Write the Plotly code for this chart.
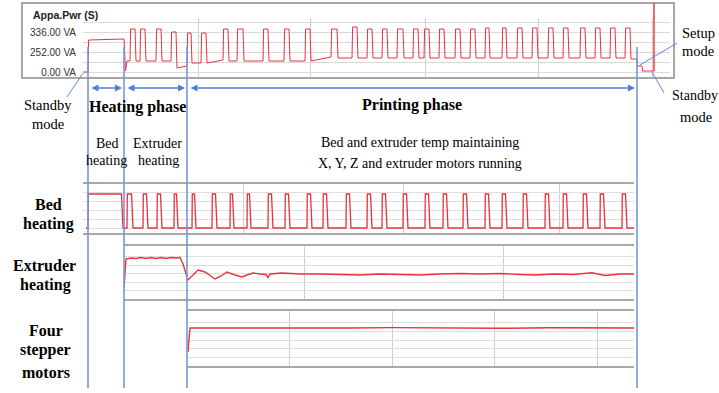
import plotly.graph_objects as go

W, H = 719, 393
SERIF = "Liberation Serif"
SANS = "Liberation Sans"
RED = "#e8323c"
BLUE = "#7597da"
BLUE_D = "#4f7fd3"

# ---------------- data (common time axis, s) ----------------
phase_bounds = [5, 41, 104, 554]   # bed heat start, extruder heat start, printing start, setup
cursor_t = 571

# Apparent power panel (values in chart grid divisions)
pwr_tick_vals = [0, 2, 4]
pwr_tick_text = ["0.00 VA", "252.00 VA", "336.00 VA"]
pwr_pre_t = [0, 5, 5.6, 41, 42.5, 44]
pwr_pre_v = [0.0, 0.0, 3.2, 3.3, 0.1, 1.1]
pwr_on = [47, 57, 73, 88, 104, 118, 140, 154, 180, 201, 222, 248, 269, 284, 299, 314,
          330, 341, 356, 372, 387, 402, 419, 434, 449, 465, 480, 497, 512, 527, 542]
pwr_off = [52, 62, 78, 93, 108, 123, 145, 160, 185, 206, 227, 254, 274, 289, 304, 320,
           335, 346, 361, 377, 392, 406, 423, 439, 454, 470, 485, 502, 517, 532, 547]
pwr_top = [4.3, 4.3, 4.3, 4.0, 3.9, 3.9, 4.3, 4.3, 4.3, 4.3, 4.3, 4.3, 4.5, 4.3, 4.3, 4.3,
           4.3, 4.3, 4.3, 4.3, 4.3, 4.4, 4.4, 4.4, 4.4, 4.4, 4.4, 4.4, 4.4, 4.4, 4.4]
pwr_base_a = [1.1, 1.1, 1.1, 0.4, 0.9, 0.9, 1.1, 1.1, 1.1, 1.1, 1.1, 1.4, 1.4, 1.4, 1.4, 1.4,
              1.4, 1.4, 1.4, 1.4, 1.4, 1.4, 1.4, 1.4, 1.4, 1.4, 1.4, 1.4, 1.4, 1.4, 1.3]
pwr_base_b = [1.1, 1.1, 1.1, 0.6, 0.9, 1.2, 1.1, 1.1, 1.1, 1.1, 1.5, 1.4, 1.4, 1.4, 1.4, 1.4,
              1.4, 1.4, 1.4, 1.4, 1.4, 1.4, 1.4, 1.4, 1.4, 1.4, 1.4, 1.4, 1.4, 1.4, 1.3]
pwr_post_t = [554, 554.6, 559, 559.6, 571]
pwr_post_v = [1.3, 0.6, 0.6, 0.1, 0.1]

# Bed heater state
bed_low, bed_high = 5, 39
bed_start, bed_end = 3, 551
bed_on = [5, 44, 60, 74, 91, 109, 129, 147, 164, 185, 202, 224, 240, 263, 284, 299, 320,
          342, 360, 380, 402, 419, 440, 462, 480, 500, 517, 539]
bed_off = [40, 50, 65, 79, 95, 113, 134, 151, 168, 190, 207, 229, 245, 268, 289, 304, 325,
           347, 365, 385, 407, 424, 445, 467, 485, 505, 522, 544]

# Extruder heater
ext_t = [41, 43, 48, 53, 58, 63, 68, 73, 78, 83, 88, 93, 97, 100, 105, 110, 115, 122, 132,
         138, 144, 152, 159, 164, 170, 177, 183, 185, 187, 199, 217, 237, 257, 277, 297, 317,
         337, 357, 377, 397, 417, 437, 452, 472, 490, 509, 522, 537, 551]
ext_v = [11, 40, 41, 40.5, 41.5, 40.5, 41.5, 40.5, 41.5, 40.5, 41.5, 41, 41.5, 35, 19, 24, 29,
         27, 20, 23, 27, 24, 22, 24, 26, 25, 24.5, 21.5, 25, 26, 25, 25, 24.5, 24, 25, 24.5,
         24, 25, 25.5, 25, 25.5, 24.5, 24, 25, 24.5, 26.2, 23.5, 25, 25]

# Four stepper motors
stp_t = [105, 107, 167, 217, 267, 309, 367, 417, 467, 497, 551]
stp_v = [14, 38, 38, 37.7, 38, 38.4, 38, 37.7, 38.3, 38.2, 38]

# ---------------- build traces ----------------
pwr_x, pwr_y = list(pwr_pre_t), list(pwr_pre_v)
for i, (s, e, top, ba, bb) in enumerate(zip(pwr_on, pwr_off, pwr_top, pwr_base_a, pwr_base_b)):
    prev = pwr_base_b[i - 1] if i > 0 else pwr_pre_v[-1]
    pwr_x += [s, s + 0.6, e, e + 1.0]
    pwr_y += [prev, top, top, ba]
pwr_x += pwr_post_t
pwr_y += pwr_post_v

bed_x, bed_y = [bed_start], [bed_low]
for s, e in zip(bed_on, bed_off):
    bed_x += [s, s + 0.3, e - 1.5, e]
    bed_y += [bed_low, bed_high, bed_high, bed_low]
bed_x.append(bed_end)
bed_y.append(bed_low)


def px(x):
    return x / W


def py(y):
    return 1 - y / H


fig = go.Figure()
fig.add_trace(go.Scatter(x=pwr_x, y=pwr_y, mode="lines", line=dict(color=RED, width=1.0),
                         xaxis="x", yaxis="y", hoverinfo="skip"))
fig.add_trace(go.Scatter(x=bed_x, y=bed_y, mode="lines", line=dict(color=RED, width=1.3),
                         xaxis="x2", yaxis="y2", hoverinfo="skip"))
fig.add_trace(go.Scatter(x=ext_t, y=ext_v, mode="lines", line=dict(color=RED, width=1.4),
                         xaxis="x3", yaxis="y3", hoverinfo="skip"))
fig.add_trace(go.Scatter(x=stp_t, y=stp_v, mode="lines", line=dict(color=RED, width=1.4),
                         xaxis="x4", yaxis="y4", hoverinfo="skip"))


def panel_x(domain, rng, grid, anchor):
    return dict(domain=domain, range=rng, tickvals=grid, showticklabels=False, showgrid=True,
                gridcolor="#cdcdcd", gridwidth=1, zeroline=False, showline=True, mirror=True,
                linecolor="#a9a9a9", linewidth=2, ticks="", anchor=anchor, fixedrange=True)


def panel_y(domain, rng, grid, anchor):
    return dict(domain=domain, range=rng, tickvals=grid, showticklabels=False, showgrid=True,
                gridcolor="#dedede", gridwidth=1, zeroline=False, showline=False, ticks="",
                anchor=anchor, fixedrange=True)


fig.update_layout(
    width=W, height=H, margin=dict(l=0, r=0, t=0, b=0),
    paper_bgcolor="white", plot_bgcolor="white", showlegend=False,
    xaxis=dict(domain=[px(83), px(670)], range=[0, 587], tickvals=[0, 115, 227, 342, 455, 569],
               showticklabels=False, showgrid=True, gridcolor="#d0d0d0", zeroline=False,
               showline=False, ticks="", anchor="y", fixedrange=True),
    yaxis=dict(domain=[py(77), py(18)], range=[-0.5, 5.4], tickvals=pwr_tick_vals,
               ticktext=pwr_tick_text, showgrid=True, gridcolor="#d9d9d9", zeroline=False,
               minor=dict(tickvals=[1, 3, 5], showgrid=True, gridcolor="#d9d9d9"),
               ticks="", ticklabelstandoff=6, tickfont=dict(family=SANS, size=10, color="#333"),
               anchor="x", fixedrange=True),
    xaxis2=panel_x([px(83), px(634)], [0, 551], [160, 320, 476], "y2"),
    yaxis2=panel_y([py(233), py(184)], [0, 49], [5, 14, 23, 32, 41], "x2"),
    xaxis3=panel_x([px(124), px(634)], [41, 551], [221, 420], "y3"),
    yaxis3=panel_y([py(299), py(246)], [0, 53], [8.5, 17, 25.5, 34, 42.5], "x3"),
    xaxis4=panel_x([px(187), px(634)], [104, 551], [206, 309, 411, 514], "y4"),
    yaxis4=panel_y([py(366), py(311)], [0, 55], [9, 18, 26, 35, 44], "x4"),
)

shapes = []
# outer frame of the power chart
shapes.append(dict(type="rect", xref="paper", yref="paper", x0=px(22), x1=px(674),
                   y0=py(78), y1=py(3), line=dict(color="#a6a6a6", width=2)))
# cursor
shapes.append(dict(type="line", xref="x", yref="paper", x0=cursor_t, x1=cursor_t,
                   y0=py(71), y1=py(3), line=dict(color=RED, width=1.4)))
# phase boundaries
for t in phase_bounds:
    shapes.append(dict(type="line", xref="x", yref="paper", x0=t, x1=t, y0=py(47), y1=py(388),
                       line=dict(color=BLUE, width=1.6)))
# leader lines
for (x0, y0, x1, y1) in [(67, 97, 83, 73), (640, 65, 677, 43), (652, 72, 664, 93)]:
    shapes.append(dict(type="line", xref="paper", yref="paper", x0=px(x0), y0=py(y0),
                       x1=px(x1), y1=py(y1), line=dict(color="#5b8bd8", width=1)))
fig.update_layout(shapes=shapes)

ann = []


def txt(s, x, y, size, bold=False, font=SERIF, anchor="center", color="black"):
    ann.append(dict(text=f"<b>{s}</b>" if bold else s, x=px(x), y=py(y), xref="paper",
                    yref="paper", showarrow=False, xanchor=anchor, yanchor="middle",
                    font=dict(family=font, size=size, color=color)))


txt("Appa.Pwr (S)", 31, 15, 10.5, bold=True, font=SANS, anchor="left", color="#222")
txt("Standby", 48, 105, 14.5)
txt("mode", 48, 124, 14.5)
txt("Heating phase", 137, 107, 16, bold=True)
txt("Printing phase", 412, 105, 16, bold=True)
txt("Setup", 680, 33, 14.5, anchor="left")
txt("mode", 680, 51, 14.5, anchor="left")
txt("Standby", 670, 96, 14, anchor="left")
txt("mode", 696, 117, 14.5)
txt("Bed", 107, 143, 14)
txt("heating", 106, 160, 14)
txt("Extruder", 157, 143, 14)
txt("heating", 158, 160, 14)
txt("Bed and extruder temp maintaining", 420, 142, 14)
txt("X, Y, Z and extruder motors running", 420, 163, 14)
txt("Bed", 48, 204, 16, bold=True)
txt("heating", 48, 224, 16, bold=True)
txt("Extruder", 44, 265, 16, bold=True)
txt("heating", 45, 285, 16, bold=True)
txt("Four", 46, 330, 16, bold=True)
txt("stepper", 45, 350, 16, bold=True)
txt("motors", 46, 372, 16, bold=True)

# double-headed phase arrows
for a, b in zip(phase_bounds[:-1], phase_bounds[1:]):
    ann.append(dict(text="", x=b - 2, y=py(88), xref="x", yref="paper", ax=a + 2, ay=0,
                    axref="x", ayref="pixel", showarrow=True, arrowhead=2, arrowside="end+start",
                    arrowsize=1, arrowwidth=1.4, arrowcolor=BLUE_D, standoff=0, startstandoff=0))

fig.update_layout(annotations=ann)
fig.write_html("out.html", config={"displayModeBar": False},
               post_script="document.body.style.margin='0';document.body.style.overflow='hidden';")
